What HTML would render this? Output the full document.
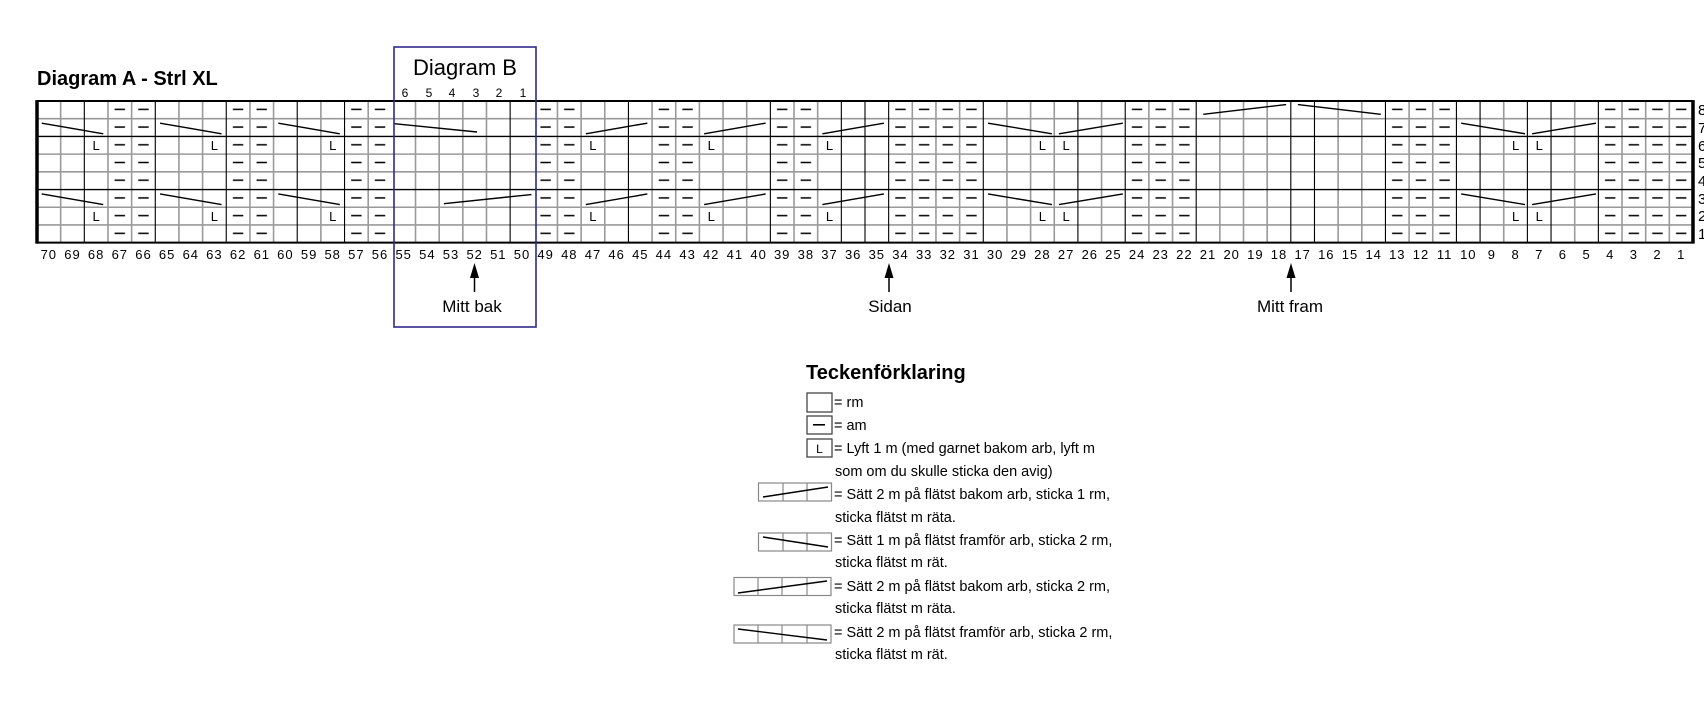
<!DOCTYPE html>
<html><head><meta charset="utf-8"><style>
html,body{margin:0;padding:0;background:#fff;width:1704px;height:718px;overflow:hidden}
svg{display:block}
text{font-family:"Liberation Sans",sans-serif;fill:#000}
.cn{font-size:13px;text-anchor:middle;letter-spacing:1px}
.lg{font-size:14.5px}
.L{font-size:13px;text-anchor:middle}
</style></head><body>
<svg width="1704" height="718" viewBox="0 0 1704 718" xmlns="http://www.w3.org/2000/svg">
<defs>
<pattern id="pd" patternUnits="userSpaceOnUse" x="0" y="0" width="1" height="1">
<rect x="0.28" y="0.43" width="0.44" height="0.085" fill="#000"/>
</pattern>
</defs>
<text x="37" y="85" style="font-size:20px;font-weight:bold">Diagram A - Strl XL</text>
<g transform="translate(37,101) scale(23.657,17.71)">
<rect x="3" y="0" width="2" height="8" fill="url(#pd)"/>
<rect x="8" y="0" width="2" height="8" fill="url(#pd)"/>
<rect x="13" y="0" width="2" height="8" fill="url(#pd)"/>
<rect x="21" y="0" width="2" height="8" fill="url(#pd)"/>
<rect x="26" y="0" width="2" height="8" fill="url(#pd)"/>
<rect x="31" y="0" width="2" height="8" fill="url(#pd)"/>
<rect x="36" y="0" width="4" height="8" fill="url(#pd)"/>
<rect x="46" y="0" width="3" height="8" fill="url(#pd)"/>
<rect x="57" y="0" width="3" height="8" fill="url(#pd)"/>
<rect x="66" y="0" width="4" height="8" fill="url(#pd)"/>
<g stroke="#9a9a9a" stroke-width="1.6" fill="none">
<path vector-effect="non-scaling-stroke" d="M1 0V8M3 0V8M4 0V8M6 0V8M7 0V8M9 0V8M10 0V8M12 0V8M14 0V8M16 0V8M17 0V8M18 0V8M19 0V8M22 0V8M23 0V8M24 0V8M26 0V8M27 0V8M28 0V8M29 0V8M30 0V8M32 0V8M33 0V8M37 0V8M38 0V8M39 0V8M41 0V8M42 0V8M43 0V8M45 0V8M47 0V8M48 0V8M50 0V8M51 0V8M52 0V8M55 0V8M56 0V8M58 0V8M59 0V8M62 0V8M65 0V8M67 0V8M68 0V8M69 0V8"/>
<path vector-effect="non-scaling-stroke" d="M0 1H70M0 3H70M0 4H70M0 6H70M0 7H70"/>
</g>
<g stroke="#000" fill="none">
<path vector-effect="non-scaling-stroke" stroke-width="1.1" d="M2 0V8M5 0V8M8 0V8M11 0V8M13 0V8M20 0V8M25 0V8M31 0V8M34 0V8M35 0V8M36 0V8M40 0V8M44 0V8M46 0V8M49 0V8M53 0V8M54 0V8M57 0V8M60 0V8M61 0V8M63 0V8M64 0V8M66 0V8"/>
<path vector-effect="non-scaling-stroke" stroke-width="1.3" d="M0 2H70M0 5H70"/>
<path vector-effect="non-scaling-stroke" stroke-width="2" d="M0 0H70M0 8H70"/>
<path vector-effect="non-scaling-stroke" stroke-width="3.5" d="M0 -0.05V8.05M70 -0.05V8.05"/>
<path vector-effect="non-scaling-stroke" stroke-width="1.4" d="
M0.2 1.25L2.8 1.85M5.2 1.25L7.8 1.85M10.2 1.25L12.8 1.85
M0.2 5.25L2.8 5.85M5.2 5.25L7.8 5.85M10.2 5.25L12.8 5.85
M15.1 1.28L18.6 1.75M17.2 5.8L20.9 5.28
M23.2 1.85L25.8 1.25M28.2 1.85L30.8 1.25M33.2 1.85L35.8 1.25
M23.2 5.85L25.8 5.25M28.2 5.85L30.8 5.25M33.2 5.85L35.8 5.25
M40.2 1.25L42.9 1.85M43.2 1.85L45.9 1.25M40.2 5.25L42.9 5.85M43.2 5.85L45.9 5.25
M60.2 1.25L62.9 1.85M63.2 1.85L65.9 1.25M60.2 5.25L62.9 5.85M63.2 5.85L65.9 5.25
M49.3 0.75L52.8 0.2M53.3 0.2L56.8 0.75"/>
</g>
</g>
<g>
<text class="L" x="96.1" y="150">L</text><text class="L" x="214.4" y="150">L</text><text class="L" x="332.7" y="150">L</text>
<text class="L" x="592.9" y="150">L</text><text class="L" x="711.2" y="150">L</text><text class="L" x="829.5" y="150">L</text>
<text class="L" x="1042.4" y="150">L</text><text class="L" x="1066.1" y="150">L</text><text class="L" x="1515.6" y="150">L</text><text class="L" x="1539.2" y="150">L</text>
<text class="L" x="96.1" y="221">L</text><text class="L" x="214.4" y="221">L</text><text class="L" x="332.7" y="221">L</text>
<text class="L" x="592.9" y="221">L</text><text class="L" x="711.2" y="221">L</text><text class="L" x="829.5" y="221">L</text>
<text class="L" x="1042.4" y="221">L</text><text class="L" x="1066.1" y="221">L</text><text class="L" x="1515.6" y="221">L</text><text class="L" x="1539.2" y="221">L</text>
</g>
<g style="font-size:15px">
<text x="1698" y="115">8</text><text x="1698" y="133">7</text><text x="1698" y="151">6</text><text x="1698" y="168">5</text>
<text x="1698" y="186">4</text><text x="1698" y="204">3</text><text x="1698" y="221">2</text><text x="1698" y="239">1</text>
</g>
<g>
<text class="cn" x="48.8" y="259">70</text><text class="cn" x="72.5" y="259">69</text><text class="cn" x="96.1" y="259">68</text><text class="cn" x="119.8" y="259">67</text><text class="cn" x="143.5" y="259">66</text><text class="cn" x="167.1" y="259">65</text><text class="cn" x="190.8" y="259">64</text><text class="cn" x="214.4" y="259">63</text><text class="cn" x="238.1" y="259">62</text><text class="cn" x="261.8" y="259">61</text>
<text class="cn" x="285.4" y="259">60</text><text class="cn" x="309.1" y="259">59</text><text class="cn" x="332.7" y="259">58</text><text class="cn" x="356.4" y="259">57</text><text class="cn" x="380.0" y="259">56</text><text class="cn" x="403.7" y="259">55</text><text class="cn" x="427.4" y="259">54</text><text class="cn" x="451.0" y="259">53</text><text class="cn" x="474.7" y="259">52</text><text class="cn" x="498.3" y="259">51</text>
<text class="cn" x="522.0" y="259">50</text><text class="cn" x="545.6" y="259">49</text><text class="cn" x="569.3" y="259">48</text><text class="cn" x="593.0" y="259">47</text><text class="cn" x="616.6" y="259">46</text><text class="cn" x="640.3" y="259">45</text><text class="cn" x="663.9" y="259">44</text><text class="cn" x="687.6" y="259">43</text><text class="cn" x="711.2" y="259">42</text><text class="cn" x="734.9" y="259">41</text>
<text class="cn" x="758.6" y="259">40</text><text class="cn" x="782.2" y="259">39</text><text class="cn" x="805.9" y="259">38</text><text class="cn" x="829.5" y="259">37</text><text class="cn" x="853.2" y="259">36</text><text class="cn" x="876.8" y="259">35</text><text class="cn" x="900.5" y="259">34</text><text class="cn" x="924.2" y="259">33</text><text class="cn" x="947.8" y="259">32</text><text class="cn" x="971.5" y="259">31</text>
<text class="cn" x="995.1" y="259">30</text><text class="cn" x="1018.8" y="259">29</text><text class="cn" x="1042.4" y="259">28</text><text class="cn" x="1066.1" y="259">27</text><text class="cn" x="1089.8" y="259">26</text><text class="cn" x="1113.4" y="259">25</text><text class="cn" x="1137.1" y="259">24</text><text class="cn" x="1160.7" y="259">23</text><text class="cn" x="1184.4" y="259">22</text><text class="cn" x="1208.0" y="259">21</text>
<text class="cn" x="1231.7" y="259">20</text><text class="cn" x="1255.4" y="259">19</text><text class="cn" x="1279.0" y="259">18</text><text class="cn" x="1302.7" y="259">17</text><text class="cn" x="1326.3" y="259">16</text><text class="cn" x="1350.0" y="259">15</text><text class="cn" x="1373.7" y="259">14</text><text class="cn" x="1397.3" y="259">13</text><text class="cn" x="1421.0" y="259">12</text><text class="cn" x="1444.6" y="259">11</text>
<text class="cn" x="1468.3" y="259">10</text><text class="cn" x="1491.9" y="259">9</text><text class="cn" x="1515.6" y="259">8</text><text class="cn" x="1539.3" y="259">7</text><text class="cn" x="1562.9" y="259">6</text><text class="cn" x="1586.6" y="259">5</text><text class="cn" x="1610.2" y="259">4</text><text class="cn" x="1633.9" y="259">3</text><text class="cn" x="1657.5" y="259">2</text><text class="cn" x="1681.2" y="259">1</text>
</g>
<rect x="394" y="47" width="142" height="280" fill="none" stroke="#2e2a8a" stroke-width="1.6"/>
<text x="465" y="75" style="font-size:22px;text-anchor:middle">Diagram B</text>
<g style="font-size:12px;text-anchor:middle">
<text x="405" y="97">6</text><text x="429" y="97">5</text><text x="452" y="97">4</text><text x="476" y="97">3</text><text x="499" y="97">2</text><text x="523" y="97">1</text>
</g>
<g stroke="#000" stroke-width="1.5">
<line x1="474.5" y1="292" x2="474.5" y2="275"/>
<line x1="889" y1="292" x2="889" y2="275"/>
<line x1="1291" y1="292" x2="1291" y2="275"/>
</g>
<g fill="#000">
<polygon points="474.5,263 470,278 479,278"/>
<polygon points="889,263 884.5,278 893.5,278"/>
<polygon points="1291,263 1286.5,278 1295.5,278"/>
</g>
<g style="font-size:17px;text-anchor:middle">
<text x="472" y="312">Mitt bak</text>
<text x="890" y="312">Sidan</text>
<text x="1290" y="312">Mitt fram</text>
</g>
<text x="806" y="379" style="font-size:20px;font-weight:bold">Teckenförklaring</text>
<g fill="none" stroke="#444" stroke-width="1.3">
<rect x="807" y="393" width="25" height="19"/>
<rect x="807" y="416" width="25" height="18"/>
<rect x="807" y="439" width="25" height="18"/>
</g>
<rect x="813" y="424" width="12" height="1.6" fill="#000"/>
<text x="819.5" y="453" class="L" style="font-size:12px">L</text>
<g fill="none" stroke="#888" stroke-width="1.2">
<rect x="758.5" y="483" width="73" height="18"/><path d="M783 483V501M807 483V501"/>
<rect x="758.5" y="533" width="73" height="18"/><path d="M783 533V551M807 533V551"/>
<rect x="734" y="577.5" width="97" height="18"/><path d="M758 577.5V595.5M782 577.5V595.5M807 577.5V595.5"/>
<rect x="734" y="625" width="97" height="18"/><path d="M758 625V643M782 625V643M807 625V643"/>
</g>
<g stroke="#000" stroke-width="1.4">
<line x1="763" y1="497" x2="828" y2="487"/>
<line x1="763" y1="537" x2="828" y2="547"/>
<line x1="738" y1="593" x2="827" y2="581"/>
<line x1="738" y1="629" x2="827" y2="640"/>
</g>
<g>
<text class="lg" x="834" y="407">= rm</text>
<text class="lg" x="834" y="430">= am</text>
<text class="lg" x="834" y="453">= Lyft 1 m (med garnet bakom arb, lyft m</text>
<text class="lg" x="835" y="476">som om du skulle sticka den avig)</text>
<text class="lg" x="834" y="499">= Sätt 2 m på flätst bakom arb, sticka 1 rm,</text>
<text class="lg" x="835" y="522">sticka flätst m räta.</text>
<text class="lg" x="834" y="545">= Sätt 1 m på flätst framför arb, sticka 2 rm,</text>
<text class="lg" x="835" y="567">sticka flätst m rät.</text>
<text class="lg" x="834" y="591">= Sätt 2 m på flätst bakom arb, sticka 2 rm,</text>
<text class="lg" x="835" y="613">sticka flätst m räta.</text>
<text class="lg" x="834" y="637">= Sätt 2 m på flätst framför arb, sticka 2 rm,</text>
<text class="lg" x="835" y="659">sticka flätst m rät.</text>
</g>
</svg>
</body></html>
